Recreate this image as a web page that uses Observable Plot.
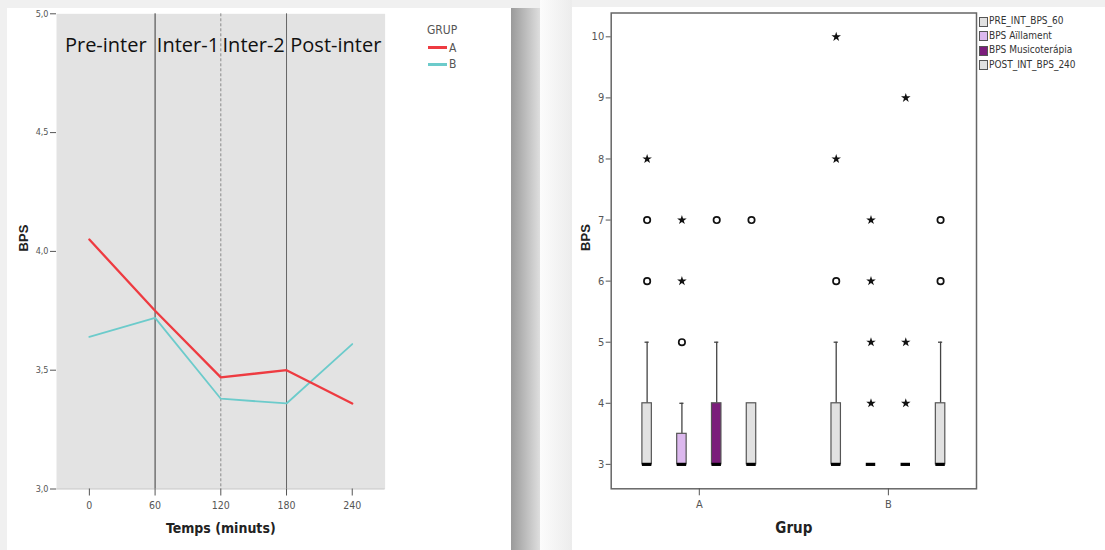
<!DOCTYPE html>
<html>
<head>
<meta charset="utf-8">
<script src="https://cdn.jsdelivr.net/npm/d3@7"></script>
<script src="https://cdn.jsdelivr.net/npm/@observablehq/plot@0.6"></script>
<style>
  html, body { margin: 0; padding: 0; }
  body { width: 1105px; height: 550px; background: #f0f0f0; position: relative; overflow: hidden;
         font-family: "Liberation Sans Narrow", "DejaVu Sans Condensed", "Liberation Sans", sans-serif; }
  .abs { position: absolute; }
  #lcard { left: 7px; top: 8px; width: 504px; height: 542px; background: #fff; }
  #lshadow { left: 511px; top: 8px; width: 29px; height: 542px; background: linear-gradient(to right, #9a9a9a, #dedede); }
  #gap { left: 540px; top: 0px; width: 32px; height: 550px; background: linear-gradient(to right, #fcfcfc, #ececec); }
  #rcard { left: 572px; top: 7px; width: 533px; height: 543px; background: #fff; }
  #leftPlot, #rightPlot { position: absolute; top: 0; }
  #leftPlot { left: 0; }
  #rightPlot { left: 560px; }
  #leftPlot svg, #rightPlot svg { max-width: none; background: transparent; }
  .leg { position: absolute; color: #555; white-space: nowrap; }
</style>
</head>
<body>
<div id="lcard" class="abs"></div>
<div id="lshadow" class="abs"></div>
<div id="gap" class="abs"></div>
<div id="rcard" class="abs"></div>
<div id="leftPlot"></div>
<div id="rightPlot"></div>
<div id="leftLegend"></div>
<div id="rightLegend"></div>
<script>
// ---------------- DATA: left panel (mean BPS over time) ----------------
const times = [0, 60, 120, 180, 240];
const groups = ["A", "B"];
const meanA = [4.05, 3.75, 3.47, 3.50, 3.36];
const meanB = [3.64, 3.72, 3.38, 3.36, 3.61];
const lineColors = ["#ee3b41", "#6ccbcb"];
const leftYTicks = [3.0, 3.5, 4.0, 4.5, 5.0];
const phaseLabels = ["Pre-inter", "Inter-1", "Inter-2", "Post-inter"];
const phaseBreaks = [60, 120, 180];
const timeDomain = [-30, 270];

// ---------------- DATA: right panel (box plots) ----------------
const boxSeries = ["PRE_INT_BPS_60", "BPS Aïllament", "BPS Musicoterápia", "POST_INT_BPS_240"];
const boxColors = ["#e1e1e1", "#dcb8ee", "#7b1d7b", "#e1e1e1"];
// [low whisker, q1, median, q3, high whisker]
const boxStatsA = [[3, 3, 3, 4, 5], [3, 3, 3, 3.5, 4], [3, 3, 3, 4, 5], [3, 3, 3, 4, 4]];
const boxStatsB = [[3, 3, 3, 4, 5], [3, 3, 3, 3, 3], [3, 3, 3, 3, 3], [3, 3, 3, 4, 5]];
const outliersA = [[6, 7], [5], [7], [7]];
const extremesA = [[8], [6, 7], [], []];
const outliersB = [[6], [], [], [6, 7]];
const extremesB = [[8, 10], [4, 5, 6, 7], [4, 5, 9], []];
const rightYTicks = [3, 4, 5, 6, 7, 8, 9, 10];

// ---------------- build tables ----------------
const lineRows = [];
[meanA, meanB].forEach((vals, gi) => vals.forEach((v, i) => lineRows.push({t: times[i], v, g: groups[gi]})));

const phaseEdges = [timeDomain[0], ...phaseBreaks, timeDomain[1]];
const phaseRows = phaseLabels.map((label, i) => ({label, mid: (phaseEdges[i] + phaseEdges[i + 1]) / 2}));

const SERIES_STEP = 0.184, BOX_HALF = 0.025, CAP_HALF = 0.011;
const boxStats = [boxStatsA, boxStatsB];
const outliers = [outliersA, outliersB];
const extremes = [extremesA, extremesB];
const boxRows = [], outRows = [], extRows = [];
groups.forEach((g, gi) => {
  boxSeries.forEach((s, si) => {
    const [low, q1, med, q3, high] = boxStats[gi][si];
    const xc = gi + (si - 1.5) * SERIES_STEP;
    boxRows.push({g, s, xc, low, q1, med, q3, high});
    outliers[gi][si].forEach(v => outRows.push({xc, v}));
    extremes[gi][si].forEach(v => extRows.push({xc, v}));
  });
});

const NARROW = '"Liberation Sans Narrow", "DejaVu Sans Condensed", "Liberation Sans", sans-serif';

// ---------------- left plot ----------------
const left = Plot.plot({
  width: 400, height: 550,
  marginLeft: 56, marginRight: 15.4, marginTop: 13.3, marginBottom: 61.5,
  style: {background: "transparent", fontFamily: NARROW, maxWidth: "none"},
  x: {domain: timeDomain},
  y: {domain: [3, 5]},
  color: {domain: groups, range: lineColors},
  marks: [
    Plot.frame({fill: "#e3e3e3", stroke: null}),
    Plot.ruleY([3], {stroke: "#c6c6c6"}),
    Plot.ruleX([phaseBreaks[0]], {stroke: "#3a3a3a", strokeWidth: 1}),
    Plot.ruleX([phaseBreaks[1]], {stroke: "#8a8a8a", strokeWidth: 1, strokeDasharray: "3,2"}),
    Plot.ruleX([phaseBreaks[2]], {stroke: "#666", strokeWidth: 1}),
    Plot.line(lineRows.filter(d => d.g === "B"), {x: "t", y: "v", stroke: "g", strokeWidth: 1.8}),
    Plot.line(lineRows.filter(d => d.g === "A"), {x: "t", y: "v", stroke: "g", strokeWidth: 2.3}),
    Plot.text(phaseRows, {x: "mid", text: "label", frameAnchor: "top", dy: 23.5,
      fontSize: 20, fontFamily: '"Open Sans", "Noto Sans", sans-serif', fill: "#111"}),
    Plot.axisY({ticks: leftYTicks, tickFormat: d => d.toFixed(1).replace(".", ","), tickSize: 6, tickPadding: 2,
      fontSize: 9, color: "#555", label: null}),
    Plot.axisX({ticks: times, tickSize: 7, tickPadding: 6, fontSize: 10.5, color: "#555", label: null}),
    Plot.text(["BPS"], {frameAnchor: "left", dx: -33, rotate: -90, fontWeight: "bold", fontSize: 13, fill: "#222",
      fontFamily: '"Liberation Sans", sans-serif'}),
    Plot.text(["Temps (minuts)"], {frameAnchor: "bottom", dy: 44, fontWeight: "bold", fontSize: 14, fill: "#222"})
  ]
});
document.getElementById("leftPlot").appendChild(left);

// left legend
(function () {
  const box = document.getElementById("leftLegend");
  const t = document.createElement("div");
  t.className = "leg"; t.textContent = "GRUP";
  t.style.cssText = "left:427px;top:23px;font-size:12px;line-height:14px;";
  box.appendChild(t);
  groups.forEach((g, i) => {
    const y = 47.7 + i * 16.6;
    const ln = document.createElement("div");
    ln.className = "leg";
    ln.style.cssText = `left:428px;top:${y - 1.25}px;width:19px;height:2.5px;background:${lineColors[i]};`;
    box.appendChild(ln);
    const lb = document.createElement("div");
    lb.className = "leg"; lb.textContent = g;
    lb.style.cssText = `left:449px;top:${y - 7}px;font-size:12px;line-height:14px;`;
    box.appendChild(lb);
  });
})();

// ---------------- right plot ----------------
const right = Plot.plot({
  width: 440, height: 550,
  marginLeft: 50.7, marginRight: 24, marginTop: 12.5, marginBottom: 61.7,
  style: {background: "transparent", fontFamily: NARROW, maxWidth: "none"},
  x: {domain: [-0.466, 1.466]},
  y: {domain: [2.6, 10.39]},
  color: {domain: boxSeries, range: boxColors},
  marks: [
    Plot.ruleX(boxRows.filter(d => d.high > d.q3), {x: "xc", y1: "q3", y2: "high", stroke: "#444", strokeWidth: 1.3}),
    Plot.ruleY(boxRows.filter(d => d.high > d.q3), {y: "high", x1: d => d.xc - CAP_HALF, x2: d => d.xc + CAP_HALF, stroke: "#444", strokeWidth: 1.3}),
    Plot.rect(boxRows.filter(d => d.q3 > d.q1), {x1: d => d.xc - BOX_HALF, x2: d => d.xc + BOX_HALF, y1: "q1", y2: "q3",
      fill: "s", stroke: "#555", strokeWidth: 1.2}),
    Plot.ruleY(boxRows, {y: "med", x1: d => d.xc - BOX_HALF, x2: d => d.xc + BOX_HALF, stroke: "#000", strokeWidth: 3.2}),
    Plot.dot(outRows, {x: "xc", y: "v", r: 3.2, stroke: "#111", strokeWidth: 1.7, fill: "none"}),
    Plot.dot(extRows, {x: "xc", y: "v", r: 3.0, symbol: "star", fill: "#111", stroke: null}),
    Plot.frame({stroke: "#666", strokeWidth: 1.5}),
    Plot.axisY({ticks: rightYTicks, tickSize: 5, tickPadding: 2, fontSize: 11, color: "#555", label: null}),
    Plot.axisX({ticks: [0, 1], tickFormat: i => groups[i], tickSize: 7, tickPadding: 4, fontSize: 11, color: "#555", label: null}),
    Plot.text(["BPS"], {frameAnchor: "left", dx: -25, rotate: -90, fontWeight: "bold", fontSize: 13, fill: "#222",
      fontFamily: '"Liberation Sans", sans-serif'}),
    Plot.text(["Grup"], {frameAnchor: "bottom", dy: 44.5, fontWeight: "bold", fontSize: 15, fill: "#222"})
  ]
});
document.getElementById("rightPlot").appendChild(right);

// right legend
(function () {
  const box = document.getElementById("rightLegend");
  boxSeries.forEach((s, i) => {
    const y = 21 + i * 14.5;
    const sw = document.createElement("div");
    sw.className = "leg";
    sw.style.cssText = `left:979px;top:${y - 4.5}px;width:7px;height:8px;background:${boxColors[i]};border:1px solid #555;`;
    box.appendChild(sw);
    const lb = document.createElement("div");
    lb.className = "leg"; lb.textContent = s;
    lb.style.cssText = `left:989px;top:${y - 7}px;font-size:10px;line-height:14px;color:#333;`;
    box.appendChild(lb);
  });
})();
</script>
</body>
</html>
